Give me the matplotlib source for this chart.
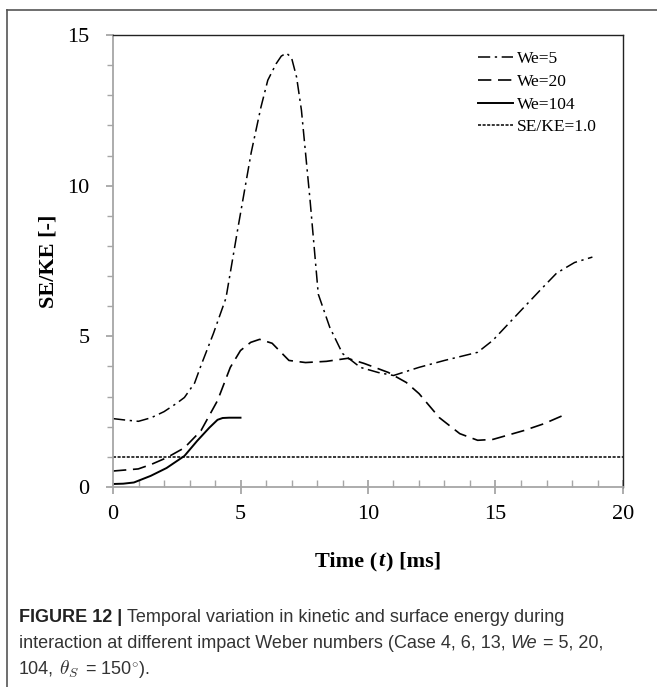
import matplotlib
matplotlib.use("Agg")
import matplotlib.pyplot as plt
from matplotlib.lines import Line2D
from matplotlib.transforms import IdentityTransform

# SE/KE ratio over time for three impact Weber numbers
t_we5 = [0, 0.5, 1.0, 1.5, 2.0, 2.5, 2.8, 3.2, 3.45, 3.94, 4.43, 4.9, 5.42, 5.8, 6.07, 6.4, 6.6, 6.8, 7.0,
         7.2, 7.39, 7.73, 8.05, 8.5, 9.0, 9.7, 10.4, 11.0, 12.0, 13.0, 14.3, 14.9, 15.9, 16.75, 17.4, 18.1, 18.8]
se_we5 = [2.27, 2.22, 2.18, 2.3, 2.5, 2.78, 2.97, 3.45, 4.03, 5.1, 6.27, 8.6, 11.1, 12.6, 13.5, 14.05, 14.3, 14.4,
          14.25, 13.6, 12.5, 9.5, 6.4, 5.3, 4.43, 3.97, 3.8, 3.7, 3.97, 4.2, 4.47, 4.87, 5.77, 6.53, 7.1, 7.45, 7.63]

t_we20 = [0, 0.99, 1.5, 2.1, 2.8, 3.45, 4.1, 4.6, 5.0, 5.4, 5.75, 6.24, 6.9, 7.55, 8.37, 9.2, 9.85,
          10.8, 11.5, 12.0, 12.8, 13.6, 14.3, 14.9, 16.1, 16.9, 17.8]
se_we20 = [0.53, 0.6, 0.75, 0.97, 1.3, 1.87, 2.87, 3.97, 4.53, 4.8, 4.9, 4.77, 4.2, 4.13, 4.17, 4.27, 4.1,
           3.8, 3.47, 3.1, 2.3, 1.77, 1.55, 1.58, 1.87, 2.1, 2.43]

t_we104 = [0, 0.4, 0.82, 1.48, 2.1, 2.8, 3.3, 3.78, 4.1, 4.3, 4.55, 5.0]
se_we104 = [0.1, 0.11, 0.15, 0.37, 0.63, 1.03, 1.53, 1.97, 2.23, 2.29, 2.3, 2.3]

ref_t = [0, 20]
ref_se = [1.0, 1.0]

serif = "Liberation Serif"
sans = "Liberation Sans"
grey = "#a6a6a6"
W, H = 657, 687

plt.rcParams["mathtext.fontset"] = "cm"

fig = plt.figure(figsize=(W / 100, H / 100), dpi=100)
ax = fig.add_axes([113 / W, 1 - 487 / H, 510 / W, 452 / H])

ax.plot(t_we5, se_we5, color="black", lw=1.1, dashes=(8, 3, 1.5, 3), label="We=5")
ax.plot(t_we20, se_we20, color="black", lw=1.2, dashes=(8, 4), label="We=20")
ax.plot(t_we104, se_we104, color="black", lw=1.4, label="We=104")
ax.plot(ref_t, ref_se, color="black", lw=1.1, dashes=(2, 1), label="SE/KE=1.0")

ax.set_xlim(0, 20)
ax.set_ylim(0, 15)
ax.set_xticks([0, 5, 10, 15, 20])
ax.set_yticks([0, 5, 10, 15])
ax.set_xticks(range(0, 21), minor=True)
ax.set_yticks(range(0, 16), minor=True)

for side in ("left", "bottom"):
    ax.spines[side].set_color(grey)
    ax.spines[side].set_linewidth(1.3)
for side in ("top", "right"):
    ax.spines[side].set_color("#222222")
    ax.spines[side].set_linewidth(1.0)

ax.tick_params(axis="x", which="major", direction="inout", length=10, width=1.3, color=grey, pad=8)
ax.tick_params(axis="x", which="minor", direction="in", length=5, width=1.0, color=grey)
ax.tick_params(axis="y", which="major", direction="out", length=5, width=1.3, color=grey, pad=12)
ax.tick_params(axis="y", which="minor", direction="out", length=4, width=1.0, color=grey)
for lab in ax.get_xticklabels() + ax.get_yticklabels():
    lab.set_fontfamily(serif)
    lab.set_fontsize(16)

ax.set_ylabel("SE/KE [-]", fontfamily=serif, fontsize=16, fontweight="bold", labelpad=6)

ax.legend(loc="upper left", bbox_to_anchor=(478 / W, 1 - 51 / H), bbox_transform=fig.transFigure,
          frameon=False, borderpad=0, borderaxespad=0,
          prop={"family": serif, "size": 12.5}, handlelength=2.0, handletextpad=0.25,
          labelspacing=0.38)

renderer = fig.canvas.get_renderer()


def text_run(x, y, pieces, center=False):
    # lay out differently styled pieces one after another on a single line (pixel coords)
    items = []
    for s, gap, kw in pieces:
        t = fig.text(0, 0, s, transform=IdentityTransform(), va="center", **kw)
        items.append((t, gap, t.get_window_extent(renderer).width))
    total = sum(g + w for _, g, w in items)
    cx = x - total / 2 if center else x
    for t, gap, w in items:
        cx += gap
        t.set_position((cx, H - y))
        cx += w


bold_serif = dict(fontfamily=serif, fontsize=16, fontweight="bold")
text_run(378, 561, [("Time (", 0, bold_serif),
                    ("t", 1, dict(bold_serif, fontstyle="italic")),
                    (") [ms]", 1, bold_serif)], center=True)

# outer frame: top and left edges only
fig.add_artist(Line2D([7 / W, 1.0], [1 - 10 / H, 1 - 10 / H], transform=fig.transFigure,
                      color="#555555", lw=1.2))
fig.add_artist(Line2D([7 / W, 7 / W], [0, 1 - 10 / H], transform=fig.transFigure,
                      color="#555555", lw=1.2))

cap = dict(fontfamily=sans, fontsize=13, color="#333333")
cap_x = 19
text_run(cap_x, 617, [("FIGURE 12 |", 0, dict(cap, fontweight="bold", color="#222222")),
                      ("Temporal variation in kinetic and surface energy during", 5, cap)])
text_run(cap_x, 643, [("interaction at different impact Weber numbers (Case 4, 6, 13,", 0, cap),
                      ("We", 5, dict(cap, fontstyle="italic")),
                      ("= 5, 20,", 6, cap)])
text_run(cap_x, 669, [("104,", 0, cap),
                      (r"$\theta_S$", 5, dict(cap, fontsize=14)),
                      (r"= 150$^{\circ}$).", 6, cap)])

fig.savefig("out.png", dpi=100)
